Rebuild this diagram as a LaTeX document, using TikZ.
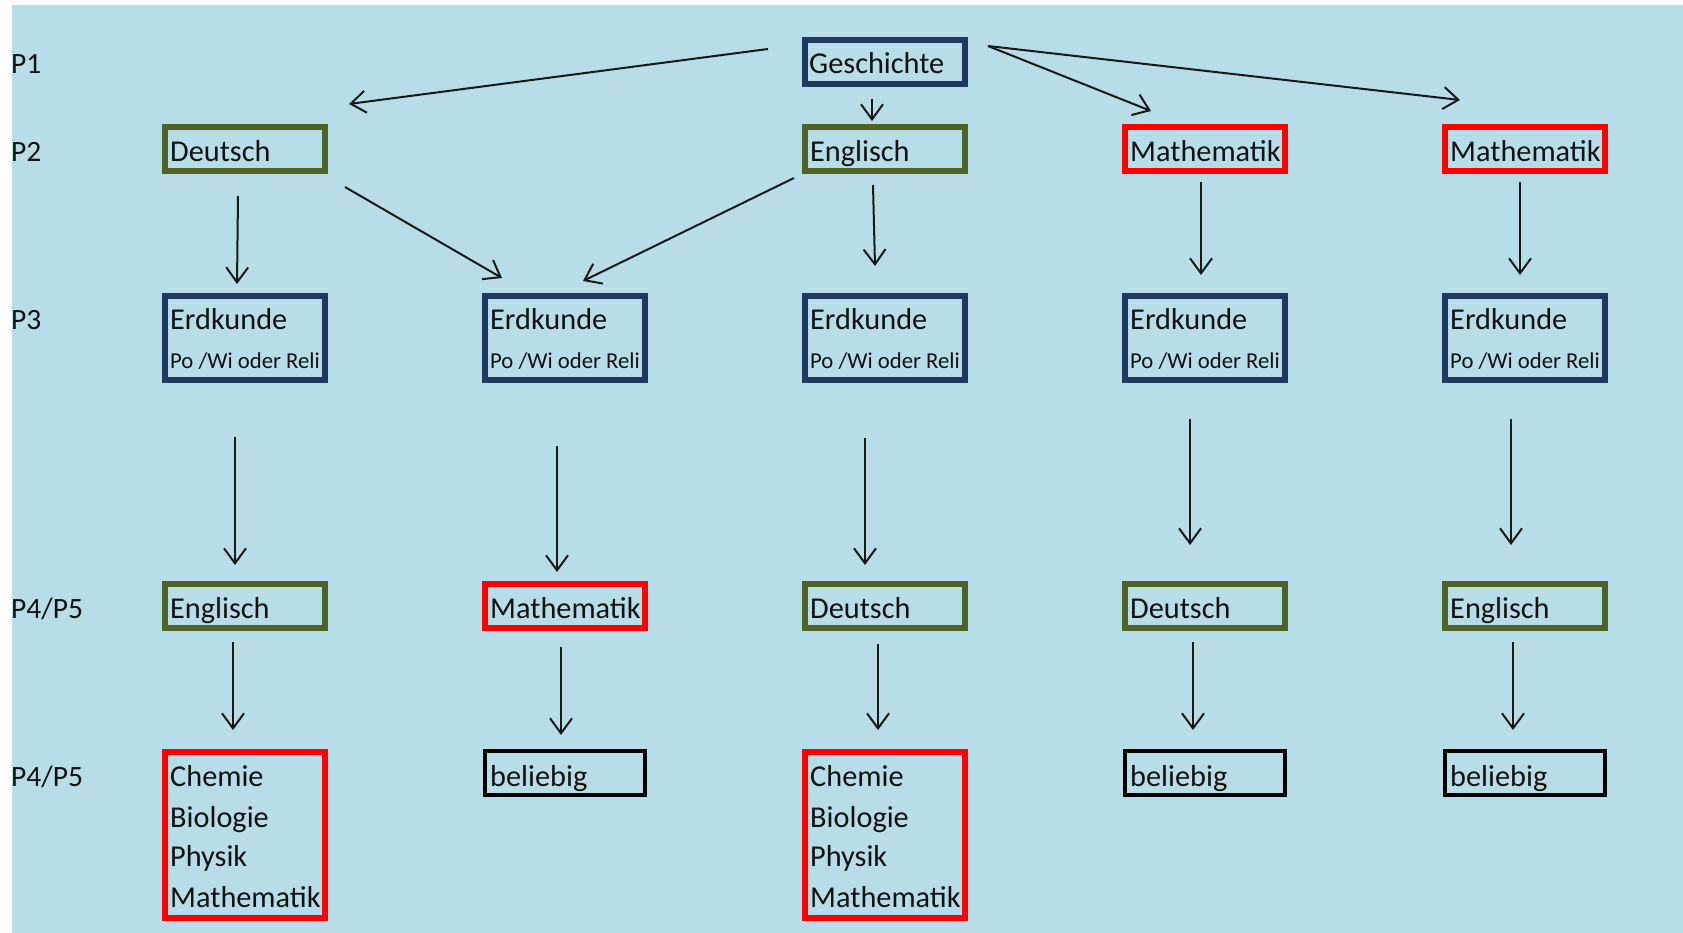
\documentclass[tikz,border=0pt]{standalone}
\usepackage{fontspec}
\setmainfont{Carlito}
\usetikzlibrary{arrows.meta,calc}
\definecolor{bg}{HTML}{B7DDE8}
\definecolor{navy}{HTML}{1F3A60}
\definecolor{olive}{HTML}{4F6228}
\definecolor{redb}{HTML}{FF0000}
\definecolor{txtc}{HTML}{121212}
\tikzset{
  box/.style={rectangle, minimum width=160pt, minimum height=44pt, inner sep=0pt, line width=6pt},
  nbox/.style={box, draw=navy},
  gbox/.style={box, draw=olive},
  rbox/.style={box, draw=redb},
  kbox/.style={box, draw=black, line width=4.5pt},
  txt/.style={anchor=base west, inner sep=0pt, text=txtc, font=\fontsize{30.3}{36}\selectfont},
  ltxt/.style={anchor=base west, inner sep=0pt, text=txtc, font=\fontsize{29.5}{36}\selectfont},
  stxt/.style={anchor=base west, inner sep=0pt, text=txtc, font=\fontsize{22.7}{27}\selectfont},
  arr/.style={draw=black!90, line width=2pt, -{Straight Barb[length=15pt,width=22pt,line width=2pt]}}
}
\begin{document}
\begin{tikzpicture}[x=1pt,y=-1pt]
\useasboundingbox (0,0) rectangle (1683,933);
\fill[bg] (12,5) rectangle (1683,933);
% row labels
\node[ltxt] (l1) at (11,74) {P1};
\node[ltxt] (l2) at (11,162) {P2};
\node[ltxt] (l3) at (11,329) {P3};
\node[ltxt] (l4) at (11,618) {P4/P5};
\node[ltxt] (l5) at (11,786) {P4/P5};
% P1
\node[nbox] (gesch) at (885,62) {};
\node[txt] (geschT) at (809,74) {Geschichte};
% P2
\node[gbox] (deu2) at (245,149.5) {};
\node[txt] (deu2T) at (170,162) {Deutsch};
\node[gbox] (eng2) at (885,149.5) {};
\node[txt] (eng2T) at (810,162) {Englisch};
\node[rbox] (mat2a) at (1205,149.5) {};
\node[txt] (mat2aT) at (1130,162) {Mathematik};
\node[rbox] (mat2b) at (1525,149.5) {};
\node[txt] (mat2bT) at (1450,162) {Mathematik};
% P3
\foreach \n/\x in {erdA/245,erdB/565,erdC/885,erdD/1205,erdE/1525}{
  \node[nbox, minimum height=84pt] (\n) at (\x,338) {};
  \node[txt] (\n T) at (\x-75,329) {Erdkunde};
  \node[stxt] (\n S) at (\x-75,368) {Po /Wi oder Reli};
}
% P4
\node[gbox] (p4a) at (245,606) {};
\node[txt] (p4aT) at (170,618) {Englisch};
\node[rbox] (p4b) at (565,606) {};
\node[txt] (p4bT) at (490,618) {Mathematik};
\node[gbox] (p4c) at (885,606) {};
\node[txt] (p4cT) at (810,618) {Deutsch};
\node[gbox] (p4d) at (1205,606) {};
\node[txt] (p4dT) at (1130,618) {Deutsch};
\node[gbox] (p4e) at (1525,606) {};
\node[txt] (p4eT) at (1450,618) {Englisch};
% P5
\node[rbox, minimum height=166pt] (p5a) at (245,835) {};
\node[txt] (p5a1) at (170,786) {Chemie};
\node[txt] (p5a2) at (170,827) {Biologie};
\node[txt] (p5a3) at (170,866) {Physik};
\node[txt] (p5a4) at (170,907) {Mathematik};
\node[kbox] (p5b) at (565,773) {};
\node[txt] (p5bT) at (490,786) {beliebig};
\node[rbox, minimum height=166pt] (p5c) at (885,835) {};
\node[txt] (p5c1) at (810,786) {Chemie};
\node[txt] (p5c2) at (810,827) {Biologie};
\node[txt] (p5c3) at (810,866) {Physik};
\node[txt] (p5c4) at (810,907) {Mathematik};
\node[kbox] (p5d) at (1205,773) {};
\node[txt] (p5dT) at (1130,786) {beliebig};
\node[kbox] (p5e) at (1525,773) {};
\node[txt] (p5eT) at (1450,786) {beliebig};
% arrows P1 -> P2
\draw[arr] ($(gesch)+(-117,-13)$) -- ($(deu2)+(104,-45.5)$);
\draw[arr] ($(gesch)+(-13,37)$) -- ($(eng2)+(-13,-28.5)$);
\draw[arr] ($(gesch)+(103,-16)$) -- ($(mat2a)+(-54,-38.5)$);
\draw[arr] ($(gesch)+(103,-16)$) -- ($(mat2b)+(-65,-49.5)$);
% P2 -> P3
\draw[arr] ($(deu2)+(-7,46.5)$) -- ($(erdA)+(-8,-54)$);
\draw[arr] ($(deu2)+(100,37.5)$) -- ($(erdB)+(-63,-60)$);
\draw[arr] ($(eng2)+(-91,28.5)$) -- ($(erdB)+(18,-57)$);
\draw[arr] ($(eng2)+(-12,35.5)$) -- ($(erdC)+(-10,-72)$);
\draw[arr] ($(mat2a)+(-4,32.5)$) -- ($(erdD)+(-4,-63)$);
\draw[arr] ($(mat2b)+(-5,32.5)$) -- ($(erdE)+(-5,-63)$);
% P3 -> P4
\draw[arr] ($(erdA)+(-10,99)$) -- ($(p4a)+(-10,-41)$);
\draw[arr] ($(erdB)+(-8,108)$) -- ($(p4b)+(-8,-34)$);
\draw[arr] ($(erdC)+(-20,100)$) -- ($(p4c)+(-20,-41)$);
\draw[arr] ($(erdD)+(-15,81)$) -- ($(p4d)+(-15,-61)$);
\draw[arr] ($(erdE)+(-14,81)$) -- ($(p4e)+(-14,-61)$);
% P4 -> P5
\draw[arr] ($(p4a)+(-12,36)$) -- ($(p5a)+(-12,-105)$);
\draw[arr] ($(p4b)+(-4,41)$) -- ($(p5b)+(-4,-38)$);
\draw[arr] ($(p4c)+(-7,38)$) -- ($(p5c)+(-7,-105)$);
\draw[arr] ($(p4d)+(-12,36)$) -- ($(p5d)+(-12,-43)$);
\draw[arr] ($(p4e)+(-12,36)$) -- ($(p5e)+(-12,-43)$);
\end{tikzpicture}
\end{document}
